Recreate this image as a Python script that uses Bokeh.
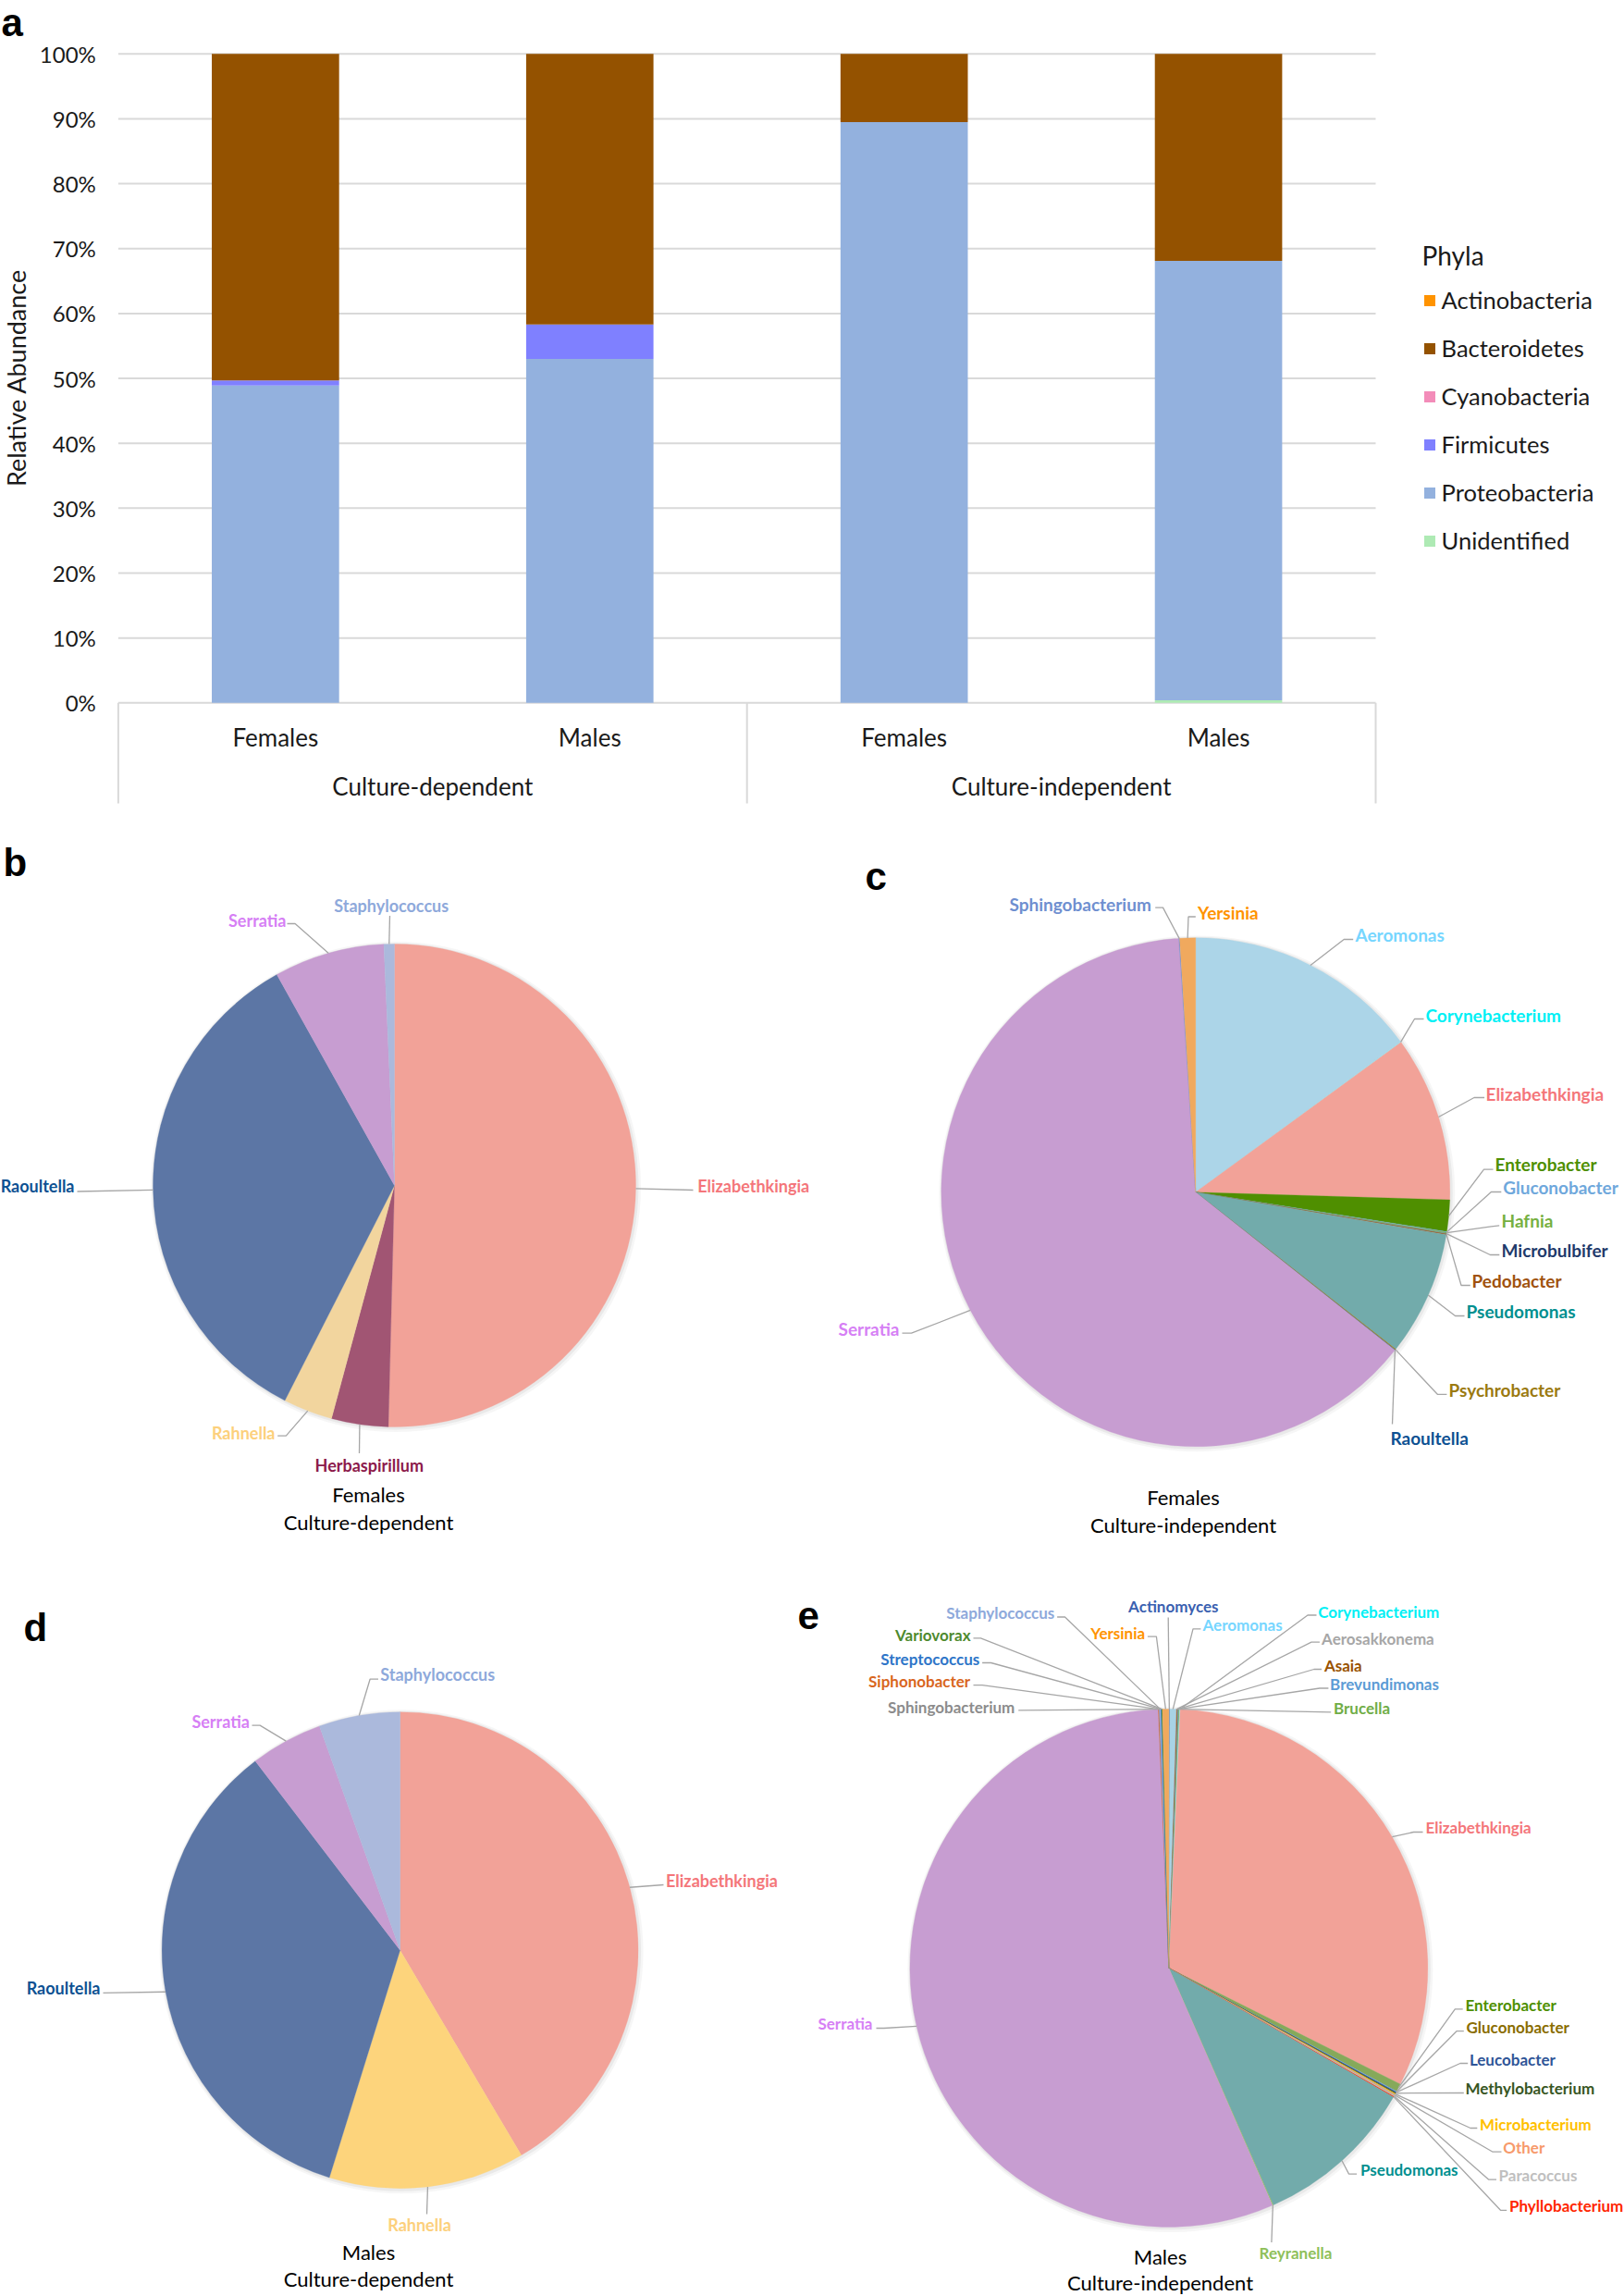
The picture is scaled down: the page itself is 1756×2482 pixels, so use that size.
import math
import numpy as np
from bokeh.plotting import figure
from bokeh.layouts import column, row
from bokeh.models import Range1d, ColumnDataSource, Legend, LegendItem
from bokeh.core.properties import value
from bokeh.embed import file_html
from bokeh.resources import INLINE

# ======================= DATA =======================
# Panel a: relative abundance (%) of phyla per sample
sample_sex = ["Females", "Males", "Females", "Males"]
sample_method = ["Culture-dependent", "Culture-dependent", "Culture-independent", "Culture-independent"]
methods = ["Culture-dependent", "Culture-independent"]
phyla = ["Actinobacteria", "Bacteroidetes", "Cyanobacteria", "Firmicutes", "Proteobacteria", "Unidentified"]
actinobacteria = [0.0, 0.0, 0.0, 0.0]
bacteroidetes = [50.3, 41.7, 10.5, 31.9]
cyanobacteria = [0.0, 0.0, 0.0, 0.0]
firmicutes = [0.8, 5.3, 0.0, 0.0]
proteobacteria = [48.9, 53.0, 89.5, 67.7]
unidentified = [0.0, 0.0, 0.0, 0.4]
y_ticks = [0, 10, 20, 30, 40, 50, 60, 70, 80, 90, 100]
y_tick_labels = ["0%", "10%", "20%", "30%", "40%", "50%", "60%", "70%", "80%", "90%", "100%"]

# Panel b: Females, culture-dependent (% of genera)
genera_b = ["Elizabethkingia", "Herbaspirillum", "Rahnella", "Raoultella", "Serratia", "Staphylococcus"]
abundance_b = [50.4, 3.8, 3.3, 34.4, 7.4, 0.7]

# Panel c: Females, culture-independent
genera_c = ["Aeromonas", "Corynebacterium", "Elizabethkingia", "Enterobacter", "Gluconobacter", "Hafnia",
            "Microbulbifer", "Pedobacter", "Pseudomonas", "Psychrobacter", "Raoultella", "Serratia",
            "Sphingobacterium", "Yersinia"]
abundance_c = [14.9, 0.05, 10.5, 2.0, 0.05, 0.05, 0.05, 0.05, 7.9, 0.05, 0.05, 63.2, 0.05, 1.0]

# Panel d: Males, culture-dependent
genera_d = ["Elizabethkingia", "Rahnella", "Raoultella", "Serratia", "Staphylococcus"]
abundance_d = [41.5, 13.3, 34.8, 4.9, 5.5]

# Panel e: Males, culture-independent
genera_e = ["Actinomyces", "Aeromonas", "Aerosakkonema", "Asaia", "Brevundimonas", "Brucella",
            "Corynebacterium", "Elizabethkingia", "Enterobacter", "Gluconobacter", "Leucobacter",
            "Methylobacterium", "Microbacterium", "Other", "Paracoccus", "Phyllobacterium",
            "Pseudomonas", "Reyranella", "Serratia", "Siphonobacter", "Sphingobacterium",
            "Staphylococcus", "Streptococcus", "Variovorax", "Yersinia"]
abundance_e = [0.05, 0.4, 0.05, 0.05, 0.05, 0.05, 0.05, 31.7, 0.5, 0.05, 0.05, 0.05, 0.05, 0.1,
               0.05, 0.05, 10.1, 0.05, 55.9, 0.05, 0.05, 0.05, 0.05, 0.05, 0.4]

# ======================= STYLE =======================
TXT = "Lato"
LETTER_FONT = "Liberation Sans"
PHYLA_COLORS = {"Actinobacteria": "#ff9300", "Bacteroidetes": "#945200", "Cyanobacteria": "#f38cb9",
                "Firmicutes": "#7f80ff", "Proteobacteria": "#93b1de", "Unidentified": "#aeeab4"}
GRID = "#d9d9d9"
LEADER = "#a6a6a6"

SLICE = {
    "Elizabethkingia": "#f2a298", "Herbaspirillum": "#a15573", "Rahnella": "#f2d59e", "Raoultella": "#5c76a5",
    "Serratia": "#c79dd1", "Staphylococcus": "#abb9dc", "Aeromonas": "#acd5e8", "Corynebacterium": "#9fdde8",
    "Enterobacter": "#4f8f00", "Gluconobacter": "#6fa8dc", "Hafnia": "#76b041", "Microbulbifer": "#6c8fa0",
    "Pedobacter": "#a0520e", "Pseudomonas": "#72abab", "Psychrobacter": "#9b7a10", "Sphingobacterium": "#6f8fd0",
    "Yersinia": "#f0a95e", "Actinomyces": "#3a5fb0", "Aerosakkonema": "#a6a6a6", "Asaia": "#995200",
    "Brevundimonas": "#5b9bd5", "Brucella": "#70ad47", "Leucobacter": "#2f5597", "Methylobacterium": "#375623",
    "Microbacterium": "#ffc000", "Other": "#c9a88a", "Paracoccus": "#bfbfbf", "Phyllobacterium": "#ff2600",
    "Reyranella": "#92c060", "Siphonobacter": "#d9661e", "Streptococcus": "#2e75c8", "Variovorax": "#4e8a2e",
}
SLICE_D = dict(SLICE, Rahnella="#fdd47c")
SLICE_E = dict(SLICE, Enterobacter="#86a95a", Aeromonas="#a8d3e5")

LABEL = {
    "Elizabethkingia": "#f4767a", "Herbaspirillum": "#8c1a4b", "Rahnella": "#fcd07c", "Raoultella": "#0d5192",
    "Serratia": "#d67ff5", "Staphylococcus": "#8ea9db", "Aeromonas": "#76d6ff", "Corynebacterium": "#00f0f5",
    "Enterobacter": "#4e8f00", "Gluconobacter": "#6fa8dc", "Hafnia": "#76b041", "Microbulbifer": "#1f3a6b",
    "Pedobacter": "#a0520e", "Pseudomonas": "#008f8f", "Psychrobacter": "#9b7a10", "Sphingobacterium": "#6f8fd0",
    "Yersinia": "#ff9300", "Actinomyces": "#3a5fb0", "Aerosakkonema": "#a6a6a6", "Asaia": "#995200",
    "Brevundimonas": "#5b9bd5", "Brucella": "#70ad47", "Leucobacter": "#2f5597", "Methylobacterium": "#375623",
    "Microbacterium": "#ffc000", "Other": "#f79a6b", "Paracoccus": "#bfbfbf", "Phyllobacterium": "#ff2600",
    "Reyranella": "#8fc05a", "Siphonobacter": "#d9661e", "Streptococcus": "#2e75c8", "Variovorax": "#4e8a2e",
}
LABEL_E = dict(LABEL, Sphingobacterium="#8c8c8c", Gluconobacter="#8a6d00")

# Label layouts (page pixel coordinates): text x, text y, alignment, leader elbow points
LAB_B = {
    "Elizabethkingia": (753.7, 1281, "left", [(749, 1286)]),
    "Herbaspirillum": (398.8, 1583, "center", [(388, 1570.5)]),
    "Rahnella": (297, 1548, "right", [(308.8, 1551.6), (299.7, 1551.6)]),
    "Raoultella": (80, 1281, "right", [(83, 1287.5)]),
    "Serratia": (309, 994.5, "right", [(318.6, 998), (310, 998)]),
    "Staphylococcus": (422.7, 978.6, "center", [(421, 989.5)]),
}
LAB_C = {
    "Aeromonas": (1465, 1010, "left", [(1452.7, 1015), (1462.7, 1015)]),
    "Corynebacterium": (1541, 1097, "left", [(1529, 1101), (1539, 1101)]),
    "Elizabethkingia": (1606, 1181.5, "left", [(1593.5, 1186), (1604.6, 1186)]),
    "Enterobacter": (1616, 1258, "left", [(1604, 1263.6), (1614, 1263.6)]),
    "Gluconobacter": (1624.7, 1282.5, "left", [(1611.9, 1288), (1622.8, 1288)]),
    "Hafnia": (1623, 1319, "left", [(1611.9, 1325.3), (1620.7, 1324.3)]),
    "Microbulbifer": (1623, 1350.6, "left", [(1610.8, 1356), (1620.8, 1356)]),
    "Pedobacter": (1591, 1384, "left", [(1579.5, 1389), (1589.3, 1389)]),
    "Pseudomonas": (1585, 1417, "left", [(1573, 1422), (1583, 1422)]),
    "Psychrobacter": (1566, 1502, "left", [(1553.8, 1506.8), (1563.9, 1506.8)]),
    "Raoultella": (1503, 1554, "left", [(1505, 1539)]),
    "Serratia": (972, 1436, "right", [(985, 1440.7), (975, 1440.7)]),
    "Sphingobacterium": (1244.3, 977, "right", [(1257, 980.6), (1248.7, 980.6)]),
    "Yersinia": (1294.5, 985.6, "left", [(1284.5, 990.5), (1292.3, 990.5)]),
}
LAB_D = {
    "Elizabethkingia": (719.5, 2032.6, "left", [(717, 2037)]),
    "Rahnella": (453, 2404.7, "center", [(461, 2393)]),
    "Raoultella": (108, 2148.8, "right", [(111, 2153.8)]),
    "Serratia": (269.4, 1860, "right", [(280.6, 1864.6), (272, 1864.6)]),
    "Staphylococcus": (410.8, 1809.7, "left", [(399.6, 1814.7), (408.5, 1814.7)]),
}
LAB_E = {
    "Actinomyces": (1268.3, 1735.9, "center", [(1262.7, 1748)]),
    "Aeromonas": (1300, 1756.4, "left", [(1289.5, 1760.4), (1297.9, 1760.4)]),
    "Aerosakkonema": (1428.6, 1770.7, "left", [(1417.5, 1774.7), (1426.4, 1774.7)]),
    "Asaia": (1431.4, 1799.6, "left", [(1420.3, 1804), (1428.6, 1804)]),
    "Brevundimonas": (1437.6, 1820, "left", [(1426.4, 1824.5), (1435.9, 1824.5)]),
    "Brucella": (1441.5, 1846, "left", [(1438.7, 1850.4)]),
    "Corynebacterium": (1424.7, 1741.5, "left", [(1413.5, 1745.5), (1423, 1745.5)]),
    "Elizabethkingia": (1541, 1975, "left", [(1528, 1980), (1538, 1980)]),
    "Enterobacter": (1584, 2167, "left", [(1572.8, 2171.3), (1581.2, 2171.3)]),
    "Gluconobacter": (1585, 2191, "left", [(1574.5, 2195.2), (1582.3, 2195.2)]),
    "Leucobacter": (1588.4, 2226, "left", [(1578.4, 2230), (1586.7, 2230)]),
    "Methylobacterium": (1584, 2257, "left", [(1582.3, 2262)]),
    "Microbacterium": (1599.6, 2295.8, "left", [(1589.5, 2300), (1596.8, 2300)]),
    "Other": (1624.7, 2321, "left", [(1613.6, 2325.7), (1623, 2325.7)]),
    "Paracoccus": (1620, 2350.6, "left", [(1609, 2355.6), (1617.5, 2355.6)]),
    "Phyllobacterium": (1631.5, 2383.8, "left", [(1622, 2388.8), (1628.7, 2388.8)]),
    "Pseudomonas": (1470.5, 2345, "left", [(1458, 2349.6), (1466.6, 2349.6)]),
    "Reyranella": (1400.4, 2435, "center", [(1374.4, 2423.6)]),
    "Serratia": (943, 2187, "right", [(955.4, 2192), (947, 2192)]),
    "Siphonobacter": (1048.7, 1816.9, "right", [(1061.6, 1821.2), (1052, 1821.2)]),
    "Sphingobacterium": (1096.8, 1845, "right", [(1100.7, 1848.4)]),
    "Staphylococcus": (1139.8, 1743, "right", [(1151, 1747.5), (1142.6, 1747.5)]),
    "Streptococcus": (1058.8, 1793, "right", [(1071, 1797), (1061.6, 1797)]),
    "Variovorax": (1049, 1767, "right", [(1059.9, 1770.4), (1052, 1770.4)]),
    "Yersinia": (1237.6, 1765.4, "right", [(1249.9, 1768.7), (1240.4, 1768.7)]),
}


def base_fig(w, h, xr, yr):
    p = figure(width=w, height=h, x_range=xr, y_range=yr, x_axis_type=None, y_axis_type=None,
               toolbar_location=None, output_backend="svg", min_border=0,
               outline_line_color=None, background_fill_color="white", border_fill_color="white")
    return p


# ======================= PANEL A =======================
A_LEFT, A_TOP, A_W, A_H = 0, 0, 1756, 888
CAT_X0, CAT_PX = 127.4, 339.9          # page x of first category edge, px per category
Y0_PX, Y100_PX = 759.3, 57.8           # page y of 0% and 100%
PXP = (Y0_PX - Y100_PX) / 100.0


def ax(px):
    return (px - CAT_X0) / CAT_PX


def ay(py):
    return (Y0_PX - py) / PXP


pa = base_fig(A_W, A_H, Range1d(ax(A_LEFT), ax(A_LEFT + A_W)), Range1d(ay(A_TOP + A_H), ay(A_TOP)))

n = len(sample_sex)
xpos = [i + 0.5 for i in range(n)]
# gridlines
pa.segment(x0=[0] * len(y_ticks), x1=[n] * len(y_ticks), y0=y_ticks, y1=y_ticks, line_color=GRID, line_width=2)

values = {"Actinobacteria": actinobacteria, "Bacteroidetes": bacteroidetes, "Cyanobacteria": cyanobacteria,
          "Firmicutes": firmicutes, "Proteobacteria": proteobacteria, "Unidentified": unidentified}
stack_order = ["Unidentified", "Actinobacteria", "Cyanobacteria", "Proteobacteria", "Firmicutes", "Bacteroidetes"]
src = ColumnDataSource(dict(x=xpos, **values))
rends = pa.vbar_stack(stack_order, x="x", width=0.405, source=src,
                      color=[PHYLA_COLORS[s] for s in stack_order], line_color=None)
rmap = dict(zip(stack_order, rends))

# category axis box
sep_x = [0, 2, 4]
pa.segment(x0=sep_x, x1=sep_x, y0=[0] * 3, y1=[ay(868)] * 3, line_color=GRID, line_width=2)
pa.text(x=xpos, y=[ay(796)] * n, text=sample_sex, text_align="center", text_baseline="middle",
        text_font=value(TXT), text_font_size="26px", text_color="#1a1a1a")
pa.text(x=[1, 3], y=[ay(849)] * 2, text=methods, text_align="center", text_baseline="middle",
        text_font=value(TXT), text_font_size="26px", text_color="#1a1a1a")
# y tick labels and title
pa.text(x=[ax(103.3)] * len(y_ticks), y=y_ticks, text=y_tick_labels, text_align="right",
        text_baseline="middle", text_font=value(TXT), text_font_size="24px", text_color="#1a1a1a")
pa.text(x=[ax(17)], y=[ay(408)], text=["Relative Abundance"], angle=math.pi / 2, text_align="center",
        text_baseline="middle", text_font=value(TXT), text_font_size="27px", text_color="#1a1a1a")
pa.text(x=[ax(1)], y=[ay(24)], text=["a"], text_align="left", text_baseline="alphabetic",
        text_font=value(LETTER_FONT), text_font_style="bold", text_font_size="42px", text_color="black")

legend = Legend(items=[LegendItem(label=ph, renderers=[rmap[ph]]) for ph in phyla],
                location=(1537.6, 289), title="Phyla", title_text_font=TXT, title_text_font_size="28px",
                title_text_font_style="normal", title_text_color="#1a1a1a", title_standoff=16,
                label_text_font=TXT, label_text_font_size="25.5px", label_text_color="#1a1a1a",
                glyph_width=15, glyph_height=15, label_standoff=6, label_height=15, spacing=22,
                padding=0, margin=0, border_line_color=None, background_fill_alpha=0)
pa.add_layout(legend)


# ======================= PIES =======================
def pie_panel(left, top, w, h, cx, cy, r, genera, vals, slice_colors, label_colors, layout,
              font_size, caption, cap_x, cap_y, letter, letter_xy):
    p = base_fig(w, h, Range1d(left - cx, left + w - cx), Range1d(cy - (top + h), cy - top))

    def X(px):
        return px - cx

    def Y(py):
        return cy - py

    v = np.asarray(vals, dtype=float)
    frac = v / v.sum()
    cum = np.concatenate([[0.0], np.cumsum(frac)]) * 2 * math.pi   # clockwise from 12 o'clock
    a0, a1 = cum[:-1], cum[1:]
    # soft shadow
    p.circle(x=[1.5], y=[-1.5], radius=r + 4, fill_color="#000000", fill_alpha=0.035, line_color=None)
    p.circle(x=[1.0], y=[-1.0], radius=r + 2, fill_color="#000000", fill_alpha=0.05, line_color=None)
    ps = ColumnDataSource(dict(start=math.pi / 2 - a1, end=math.pi / 2 - a0,
                               color=[slice_colors[g] for g in genera], genus=genera))
    p.wedge(x=0, y=0, radius=r, start_angle="start", end_angle="end", fill_color="color",
            line_color="color", line_width=0.3, source=ps)

    xs, ys = [], []
    groups = {"left": ([], [], [], []), "right": ([], [], [], []), "center": ([], [], [], [])}
    for i, g in enumerate(genera):
        if g not in layout:
            continue
        tx, ty, al, elbows = layout[g]
        m = 0.5 * (a0[i] + a1[i])
        ex, ey = r * math.sin(m), r * math.cos(m)
        xs.append([ex] + [X(e[0]) for e in elbows])
        ys.append([ey] + [Y(e[1]) for e in elbows])
        gx, gy, gt, gc = groups[al]
        gx.append(X(tx)); gy.append(Y(ty)); gt.append(g); gc.append(label_colors[g])
    p.multi_line(xs=xs, ys=ys, line_color=LEADER, line_width=1.3)
    for al, (gx, gy, gt, gc) in groups.items():
        if gt:
            p.text(x=gx, y=gy, text=gt, text_align=al, text_baseline="middle", text_color=gc,
                   text_font=value(TXT), text_font_style="bold", text_font_size=font_size)
    p.text(x=[X(cap_x)] * 2, y=[Y(cap_y[0]), Y(cap_y[1])], text=caption, text_align="center",
           text_baseline="middle", text_font=value(TXT), text_font_size="22px", text_color="black")
    p.text(x=[X(letter_xy[0])], y=[Y(letter_xy[1])], text=[letter], text_align="left",
           text_baseline="alphabetic", text_font=value(LETTER_FONT), text_font_style="bold",
           text_font_size="42px", text_color="black")
    return p


pb = pie_panel(0, 888, 878, 800, 426.0, 1281.0, 261, genera_b, abundance_b, SLICE, LABEL, LAB_B, "18px",
               ["Females", "Culture-dependent"], 398, (1615, 1645), "b", (3, 932))
pc = pie_panel(878, 888, 878, 800, 1292.3, 1288.3, 275, genera_c, abundance_c, SLICE, LABEL, LAB_C, "19px",
               ["Females", "Culture-independent"], 1279, (1618, 1648), "c", (935, 947))
pd_ = pie_panel(0, 1688, 860, 794, 432.1, 2107.7, 257.5, genera_d, abundance_d, SLICE_D, LABEL, LAB_D, "18px",
                ["Males", "Culture-dependent"], 398, (2434, 2463), "d", (25, 1759))
pe = pie_panel(860, 1688, 896, 794, 1263.4, 2127.0, 280, genera_e, abundance_e, SLICE_E, LABEL_E, LAB_E, "17px",
               ["Males", "Culture-independent"], 1254, (2439, 2467), "e", (862, 1746))

layout = column(pa, row(pb, pc), row(pd_, pe))
open("out.html", "w").write(file_html(layout, INLINE))
